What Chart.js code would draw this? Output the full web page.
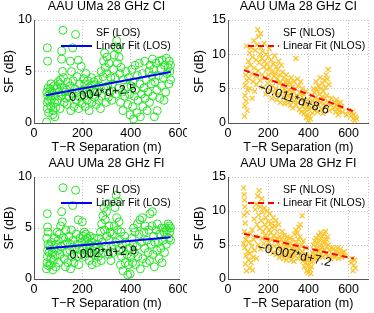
<!DOCTYPE html>
<html>
<head>
<meta charset="utf-8">
<script src="https://cdn.jsdelivr.net/npm/chart.js@4.4.0/dist/chart.umd.min.js"></script>
<style>
  body { margin: 0; background: #fff; width: 374px; height: 313px; overflow: hidden; position: relative; }
  canvas { position: absolute; }
</style>
</head>
<body>
<canvas id="ci-los" width="187" height="156" style="left:0;top:0"></canvas>
<canvas id="ci-nlos" width="187" height="156" style="left:187px;top:0"></canvas>
<canvas id="fi-los" width="187" height="157" style="left:0;top:156px"></canvas>
<canvas id="fi-nlos" width="187" height="157" style="left:187px;top:156px"></canvas>
<script>
// shadow fading samples, [T-R separation (m), SF (dB)]
const losCiPts = [
  [52,0.1],[55,1.4],[55,2.0],[57,2.6],[53,3.0],[58,3.4],[55,7.3],[56,6.0],[60,2.2],[60,1.0],
  [65,2.8],[68,3.3],[70,1.6],[72,2.3],[75,3.0],[78,0.8],[80,1.2],[82,3.6],[85,2.0],[88,2.6],[70,3.8],[90,1.5],[86,0.6],
  [95,3.4],[98,2.2],[100,4.0],[104,3.0],[107,3.8],[110,4.2],[112,2.6],[115,6.2],[115,7.0],[118,3.4],[120,9.0],[122,4.4],[125,2.0],[128,3.0],[108,1.4],[118,5.0],
  [132,2.4],[135,3.2],[138,1.8],[140,4.0],[145,2.6],[150,3.6],[152,1.2],[155,5.0],[158,2.9],[160,7.3],[162,4.1],[165,1.6],[170,3.3],[172,8.6],[175,2.2],[178,4.5],[180,3.0],[183,6.1],[185,1.4],[188,3.8],[190,2.5],[195,5.5],[198,1.9],[150,6.0],
  [202,3.2],[205,4.3],[208,2.6],[210,3.8],[212,1.6],[215,4.8],[218,3.0],[220,2.2],[222,4.1],[225,3.4],[228,1.2],[230,2.8],[235,3.6],[238,4.4],[240,2.0],[245,3.1],[248,4.0],[250,2.5],[255,3.7],[258,1.8],
  [262,3.0],[265,4.2],[268,2.2],[270,3.6],[275,1.4],[278,5.0],[280,2.6],[285,4.5],[288,6.0],[290,3.3],[292,6.8],[295,5.4],[298,2.0],[300,4.8],[302,6.4],[305,3.6],[308,2.5],[310,5.8],[315,3.0],[318,4.4],
  [322,2.2],[325,3.8],[330,5.2],[332,6.6],[335,4.4],[338,7.4],[340,2.8],[342,8.0],[345,5.8],[348,7.2],[350,3.4],[352,6.4],[355,4.8],[358,2.0],[360,5.4],[365,3.0],[368,1.2],[370,4.2],[375,2.6],[380,5.0],[385,3.5],[388,1.8],[392,4.4],[395,2.8],[398,0.8],
  [402,3.6],[405,5.2],[408,1.6],[410,4.0],[412,0.4],[415,2.6],[418,5.6],[420,3.2],[425,1.0],[428,4.6],[430,2.2],[435,5.8],[438,3.8],[440,0.6],[445,2.8],[448,4.8],[450,1.6],[455,3.4],[458,6.0],[460,2.4],[465,4.2],[468,1.2],
  [472,3.0],[475,5.0],[478,2.0],[480,5.6],[485,3.8],[488,4.6],[490,6.2],[492,2.6],[495,5.2],[498,0.6],[500,4.0],[505,5.8],[508,3.2],[510,1.2],[515,4.6],[518,6.0],[520,2.4],[525,5.2],[528,3.6],[530,6.1],[535,4.4],[538,2.2],[540,5.6],[545,3.0],[548,6.3],[550,4.8],[555,5.4],[558,3.8],[560,6.0],[562,5.0],[565,5.6],[565,4.2]
];
const nlosCiPts = [
  [82,1.0],[84,2.5],[85,4.0],[86,5.5],[88,7.0],[90,3.2],[92,8.0],[94,6.2],[96,1.8],[98,4.8],[92,11.2],
  [102,9.0],[105,6.5],[108,10.2],[110,5.0],[112,8.4],[115,11.0],[118,7.2],[120,3.6],[122,9.6],[125,6.0],[128,12.0],[130,8.0],[132,4.6],[135,10.6],[138,6.8],[140,9.2],[142,5.6],[145,11.4],[148,13.6],[150,7.6],[152,12.6],[155,8.8],[158,10.0],[160,6.2],[162,13.0],
  [165,11.0],[168,9.4],[170,7.0],[172,10.4],[175,5.2],[178,8.2],[180,11.6],[182,9.0],[185,6.6],[188,4.2],[190,10.0],[192,7.8],[195,8.6],[198,5.8],[200,9.6],[202,7.0],[205,10.8],[208,4.8],[210,8.0],[212,6.2],[215,9.2],[218,3.6],[220,7.4],
  [222,5.4],[225,8.6],[228,6.8],[230,4.4],[232,9.8],[235,7.2],[238,5.0],[240,8.2],[242,3.4],[245,6.4],[248,7.8],[250,4.2],[252,9.0],[255,5.8],[258,7.0],[260,3.0],[262,6.0],[265,8.4],[268,4.6],[270,5.4],[272,7.4],[275,3.8],[278,6.6],[280,5.0],[282,2.8],[285,6.0],[288,4.4],[290,7.0],[292,3.4],[295,5.6],[298,4.0],
  [300,6.2],[302,3.0],[305,4.8],[308,5.8],[310,2.6],[312,4.2],[315,6.6],[318,3.6],[320,5.2],[322,2.2],[325,4.6],[328,6.0],[330,3.2],[335,5.0],[338,9.4],[340,2.6],[342,4.0],[345,6.4],[348,3.0],[350,5.4],[355,2.0],[358,4.4],[360,3.4],[362,6.0],[365,1.6],[368,3.8],[370,5.0],[372,2.4],[375,4.2],[378,1.4],[380,3.0],[385,2.0],[388,4.6],[390,0.8],[392,2.6],[395,1.2],[398,3.4],[400,0.4],[402,2.0],[405,1.0],[408,3.0],[410,0.6],
  [415,2.2],[418,4.0],[420,1.4],[422,3.2],[425,5.0],[428,2.4],[430,4.4],[432,1.8],[435,3.6],[438,6.0],[440,2.8],[442,4.8],[445,1.6],[448,3.4],[450,5.4],[452,2.6],[455,4.2],[458,6.6],[460,3.0],[462,5.0],[465,2.0],[468,3.8],[470,5.8],[472,1.4],[475,4.6],[478,2.8],[480,6.2],[482,3.6],[485,5.2],[488,7.0],[490,2.4],[492,4.0],[495,6.4],[498,7.8],[500,3.0],[502,5.6],[505,1.8],[510,2.6],[515,3.6],
  [525,2.2],[530,3.0],[535,1.6],[538,2.6],[540,3.4],[545,2.0],[548,1.2],[550,2.8],[555,1.8],[560,3.0],[565,2.4],[570,1.6],[590,1.2],[600,1.8],[612,1.0],[618,1.6],[622,0.6],[625,1.2],[630,0.4],[635,0.9],[640,0.6]
];
const losFiPts = [
  [52,1.0],[54,1.6],[55,2.2],[56,2.8],[58,3.4],[53,4.0],[55,6.4],[56,5.1],[60,1.3],[58,4.6],
  [62,2.6],[65,3.2],[68,1.4],[70,2.0],[72,3.6],[75,2.6],[78,0.9],[80,1.8],[82,3.0],[85,4.0],[88,2.3],[90,1.2],[92,3.4],
  [96,4.6],[98,2.8],[100,3.8],[102,1.6],[105,4.4],[108,2.4],[110,5.2],[112,3.2],[115,6.6],[117,5.6],[120,8.95],[122,4.0],[125,2.0],[128,3.4],[130,1.2],[132,4.8],
  [135,2.6],[138,3.6],[140,1.6],[145,4.2],[148,2.8],[150,3.4],[152,1.0],[155,4.8],[158,2.2],[160,7.2],[162,3.8],[165,1.6],[168,3.0],[172,8.7],[175,4.4],[178,2.2],[180,3.4],[183,5.8],[185,1.4],[188,3.0],[190,4.0],[195,2.4],[198,3.6],[200,5.6],
  [202,4.2],[205,3.0],[208,4.6],[210,2.2],[212,3.8],[215,4.4],[218,3.2],[220,2.6],[222,4.0],[225,3.4],[228,1.8],[230,3.0],[232,4.2],[235,2.6],[238,3.6],[240,1.4],[245,3.2],[248,4.0],[250,2.4],[255,3.0],[258,1.6],[262,3.4],[265,2.2],[268,4.0],
  [272,2.8],[275,4.6],[278,1.8],[280,5.4],[283,3.6],[285,6.2],[288,2.6],[290,7.0],[292,4.8],[295,5.8],[298,3.2],[300,6.6],[302,4.2],[305,7.4],[308,2.4],[310,5.2],[312,3.8],[315,4.6],[318,1.8],[320,3.2],[325,4.4],[328,2.6],
  [332,5.2],[335,7.0],[338,3.6],[340,8.2],[342,6.0],[345,4.8],[348,7.6],[350,2.8],[352,5.6],[355,3.8],[358,1.4],[360,4.6],[362,2.2],[365,3.4],[368,0.8],[370,2.8],[375,4.2],[378,1.6],[380,3.6],[385,2.4],[388,0.4],[392,1.4],[395,3.0],[398,0.5],
  [402,2.2],[405,4.0],[408,1.6],[410,3.4],[412,5.0],[415,2.6],[418,4.6],[420,1.4],[425,3.2],[428,5.4],[430,2.2],[435,4.4],[438,5.8],[440,1.0],[445,3.6],[448,6.0],[450,2.0],[455,4.6],[458,3.0],[460,5.2],[465,1.6],[468,3.8],
  [472,2.6],[475,4.8],[478,1.8],[480,6.4],[485,3.4],[488,5.2],[490,6.6],[492,2.4],[495,4.2],[498,1.2],[500,3.6],[505,4.8],[508,2.8],[510,5.4],[515,3.6],[518,2.0],[520,4.4],[525,3.0],[528,5.0],[530,1.6],[535,3.8],[538,4.6],[540,2.6],[545,5.0],[548,3.4],[550,4.8],[555,5.4],[558,4.0],[560,5.2],[562,4.6],[565,5.0],[565,3.8]
];
const nlosFiPts = [
  [78,13.4],[80,12.4],[82,11.6],[84,10.6],[80,9.4],[86,8.2],[82,7.0],[88,5.8],[84,4.6],[90,3.4],[86,2.2],[92,1.2],[95,6.4],[98,4.0],[96,9.8],[78,5.2],
  [102,2.8],[105,5.4],[108,1.6],[110,3.8],[112,6.6],[115,2.4],[118,4.8],[120,7.2],[122,1.3],[125,3.2],[128,5.8],[130,8.8],[132,4.2],[135,10.2],[138,6.2],[140,11.0],[142,3.0],[145,8.0],[148,12.2],[150,5.0],[152,9.4],[155,13.0],[158,7.4],[160,10.6],
  [162,4.4],[165,8.6],[168,11.8],[170,6.0],[172,9.8],[175,7.0],[178,5.2],[180,10.4],[182,8.0],[185,6.4],[188,9.0],[190,4.8],[192,7.6],[195,10.0],[198,6.2],[200,8.4],[202,5.4],[205,7.2],[208,9.6],[210,4.4],[212,6.8],[215,8.2],[218,5.8],[220,7.6],[222,3.8],[225,9.0],[228,6.4],[230,4.8],[232,7.8],[235,5.6],[238,8.6],[240,3.6],[242,6.0],[245,7.0],[248,4.4],[250,5.2],[252,8.0],[255,3.2],[258,6.2],
  [262,4.6],[265,5.8],[268,3.4],[270,7.0],[272,4.0],[275,5.4],[278,3.0],[280,6.4],[282,4.8],[285,3.6],[288,5.6],[290,2.8],[292,4.4],[295,6.2],[298,3.8],[300,5.0],[302,3.2],[305,4.2],[308,6.0],[310,3.6],[312,5.2],[315,2.8],[318,4.6],[320,3.4],[322,5.8],[325,4.0],[328,2.6],[330,6.6],[332,4.8],[335,3.4],[338,7.2],[340,5.4],[342,4.2],[345,6.8],[348,3.0],[350,5.8],[352,7.6],[355,4.4],[358,6.2],[360,8.0],[362,3.6],[365,5.0],[369,9.3],[370,4.0],[372,2.6],[375,5.6],[378,3.2],[380,1.8],[385,4.6],[388,2.4],[390,3.6],[392,1.2],[395,2.8],[398,0.9],[400,2.0],[405,3.4],[408,1.4],[410,2.6],[412,0.8],[415,1.8],
  [420,3.8],[422,2.6],[425,5.0],[428,3.2],[430,4.2],[432,5.6],[435,3.6],[438,6.0],[440,4.6],[442,3.0],[445,5.2],[448,4.0],[450,6.4],[452,3.4],[455,5.8],[458,4.4],[460,6.8],[462,3.8],[465,5.0],[468,6.2],[470,4.6],[472,3.2],[475,5.6],[478,6.6],[480,4.2],[482,5.4],[485,7.0],[488,3.6],[490,5.8],[492,4.8],[495,6.2],[498,3.4],[500,5.0],[505,4.2],[510,3.0],[515,4.6],
  [520,3.6],[525,4.4],[530,3.2],[535,4.0],[540,3.4],[545,4.6],[550,3.0],[555,3.8],[560,4.4],[565,3.2],[570,3.8],[578,4.0],[585,3.4],[612,2.4],[618,3.0],[622,1.2],[625,2.0],[630,2.8],[635,1.6]
];

// linear fits (end points)
const losCiFit = [[50,2.7],[565,4.95]];
const nlosCiFit = [[80,7.7],[625,1.7]];
const losFiFit = [[50,3.0],[565,4.1]];
const nlosFiFit = [[80,6.65],[625,3.0]];

const losXTicks = [0,200,400,600];
const nlosXTicks = [0,200,400,600,700];
const losYTicks = [0,5,10];
const nlosYTicks = [0,5,10,15];

const FONT = '"Liberation Sans", Arial, sans-serif';

// title, in-axes legend and fit equation
const extras = {
  id: 'extras',
  afterDraw(chart, args, o) {
    const ctx = chart.ctx, a = chart.chartArea;
    const sx = chart.scales.x, sy = chart.scales.y;
    ctx.save();
    ctx.fillStyle = '#000';
    ctx.font = '12.5px ' + FONT;
    ctx.textAlign = 'center';
    ctx.textBaseline = 'alphabetic';
    ctx.fillText(o.title, (a.left + a.right) / 2, o.titleY);

    ctx.font = '10.5px ' + FONT;
    ctx.textAlign = 'left';
    ctx.textBaseline = 'middle';
    ctx.fillText(o.legend[0], o.legX, o.legY);
    ctx.fillText(o.legend[1], o.legX, o.legY + 13);
    ctx.strokeStyle = o.lineColor;
    ctx.lineWidth = 2;
    ctx.setLineDash(o.dash);
    ctx.beginPath();
    ctx.moveTo(o.legX - 35, o.legY + 13);
    ctx.lineTo(o.legX - 4, o.legY + 13);
    ctx.stroke();
    ctx.setLineDash([]);

    ctx.font = '12.5px ' + FONT;
    ctx.textAlign = 'center';
    ctx.translate(sx.getPixelForValue(o.eq[0]), sy.getPixelForValue(o.eq[1]));
    ctx.rotate(o.eq[2] * Math.PI / 180);
    ctx.fillText(o.eqText, 0, 0);
    ctx.restore();
  }
};

function makeChart(id, c) {
  const canvas = document.getElementById(id);
  const W = canvas.width, H = canvas.height;
  const tickFont = { family: FONT, size: 12.5 };
  new Chart(canvas, {
    type: 'scatter',
    data: {
      datasets: [
        {
          type: 'line',
          data: c.fit.map(p => ({ x: p[0], y: p[1] })),
          borderColor: c.fitColor,
          borderWidth: 2,
          borderDash: c.dash,
          pointRadius: 0,
          fill: false
        },
        {
          data: c.pts.map(p => ({ x: p[0], y: p[1] })),
          pointStyle: c.marker,
          pointRadius: c.radius,
          borderColor: c.color,
          backgroundColor: 'rgba(0,0,0,0)',
          borderWidth: c.markerWidth
        }
      ]
    },
    options: {
      responsive: false,
      animation: false,
      events: [],
      layout: { padding: { top: c.top, right: W - c.right, left: 0, bottom: 0 } },
      plugins: {
        legend: { display: false },
        tooltip: { enabled: false },
        extras: c.extras
      },
      scales: {
        x: {
          type: 'linear',
          min: 0,
          max: c.xmax,
          afterBuildTicks: s => { s.ticks = c.xticks.map(v => ({ value: v })); },
          afterFit: s => { s.height = H - c.bottom; s.paddingLeft = 0; s.paddingRight = 0; },
          ticks: {
            autoSkip: false,
            maxRotation: 0,
            padding: 3,
            color: '#000',
            font: tickFont,
            callback: v => (v <= 600 ? String(v) : '')
          },
          grid: { color: '#c4c4c4', drawTicks: false },
          border: { display: true, color: '#555', dash: [1, 2] },
          title: {
            display: true,
            text: 'T\u2212R Separation (m)',
            color: '#000',
            font: tickFont,
            padding: { top: 0, bottom: c.xTitlePad }
          }
        },
        y: {
          type: 'linear',
          min: 0,
          max: c.ymax,
          afterBuildTicks: s => { s.ticks = c.yticks.map(v => ({ value: v })); },
          afterFit: s => { s.width = c.left; },
          ticks: { padding: 2, color: '#000', font: tickFont },
          grid: { color: '#c4c4c4', drawTicks: false },
          border: { display: true, color: '#555', dash: [1, 2] },
          title: {
            display: true,
            text: 'SF (dB)',
            color: '#000',
            font: tickFont,
            padding: { top: c.yTitlePad, bottom: 0 }
          }
        }
      }
    },
    plugins: [extras]
  });
}

const green = '#22e622';
const gold = '#fcc52c';

makeChart('ci-los', {
  pts: losCiPts, fit: losCiFit, fitColor: '#0000ff', dash: [],
  marker: 'circle', radius: 4, color: green, markerWidth: 1,
  top: 20, bottom: 123, left: 34, right: 179,
  xmax: 600, ymax: 10, xticks: losXTicks, yticks: losYTicks,
  xTitlePad: 1, yTitlePad: 2,
  extras: {
    title: 'AAU UMa 28 GHz CI', titleY: 10,
    legend: ['SF (LOS)', 'Linear Fit (LOS)'], legX: 96, legY: 33,
    lineColor: '#0000ff', dash: [],
    eqText: '0.004*d+2.5', eq: [285, 2.9, -8]
  }
});

makeChart('ci-nlos', {
  pts: nlosCiPts, fit: nlosCiFit, fitColor: '#ff0000', dash: [6, 4],
  marker: 'crossRot', radius: 3.5, color: gold, markerWidth: 1.3,
  top: 20, bottom: 123, left: 41, right: 186,
  xmax: 700, ymax: 15, xticks: nlosXTicks, yticks: nlosYTicks,
  xTitlePad: 1, yTitlePad: 5,
  extras: {
    title: 'AAU UMa 28 GHz CI', titleY: 10,
    legend: ['SF (NLOS)', 'Linear Fit (NLOS)'], legX: 96, legY: 33,
    lineColor: '#ff0000', dash: [6, 4],
    eqText: '\u22120.011*d+8.6', eq: [326, 3.5, 19]
  }
});

makeChart('fi-los', {
  pts: losFiPts, fit: losFiFit, fitColor: '#0000ff', dash: [],
  marker: 'circle', radius: 4, color: green, markerWidth: 1,
  top: 21, bottom: 123, left: 34, right: 179,
  xmax: 600, ymax: 10, xticks: losXTicks, yticks: losYTicks,
  xTitlePad: 2, yTitlePad: 2,
  extras: {
    title: 'AAU UMa 28 GHz FI', titleY: 11,
    legend: ['SF (LOS)', 'Linear Fit (LOS)'], legX: 96, legY: 34,
    lineColor: '#0000ff', dash: [],
    eqText: '0.002*d+2.9', eq: [287, 2.55, -4]
  }
});

makeChart('fi-nlos', {
  pts: nlosFiPts, fit: nlosFiFit, fitColor: '#ff0000', dash: [6, 4],
  marker: 'crossRot', radius: 3.5, color: gold, markerWidth: 1.3,
  top: 21, bottom: 123, left: 41, right: 186,
  xmax: 700, ymax: 15, xticks: nlosXTicks, yticks: nlosYTicks,
  xTitlePad: 2, yTitlePad: 5,
  extras: {
    title: 'AAU UMa 28 GHz FI', titleY: 11,
    legend: ['SF (NLOS)', 'Linear Fit (NLOS)'], legX: 96, legY: 34,
    lineColor: '#ff0000', dash: [6, 4],
    eqText: '\u22120.007*d+7.2', eq: [331, 3.5, 12]
  }
});
</script>
</body>
</html>
